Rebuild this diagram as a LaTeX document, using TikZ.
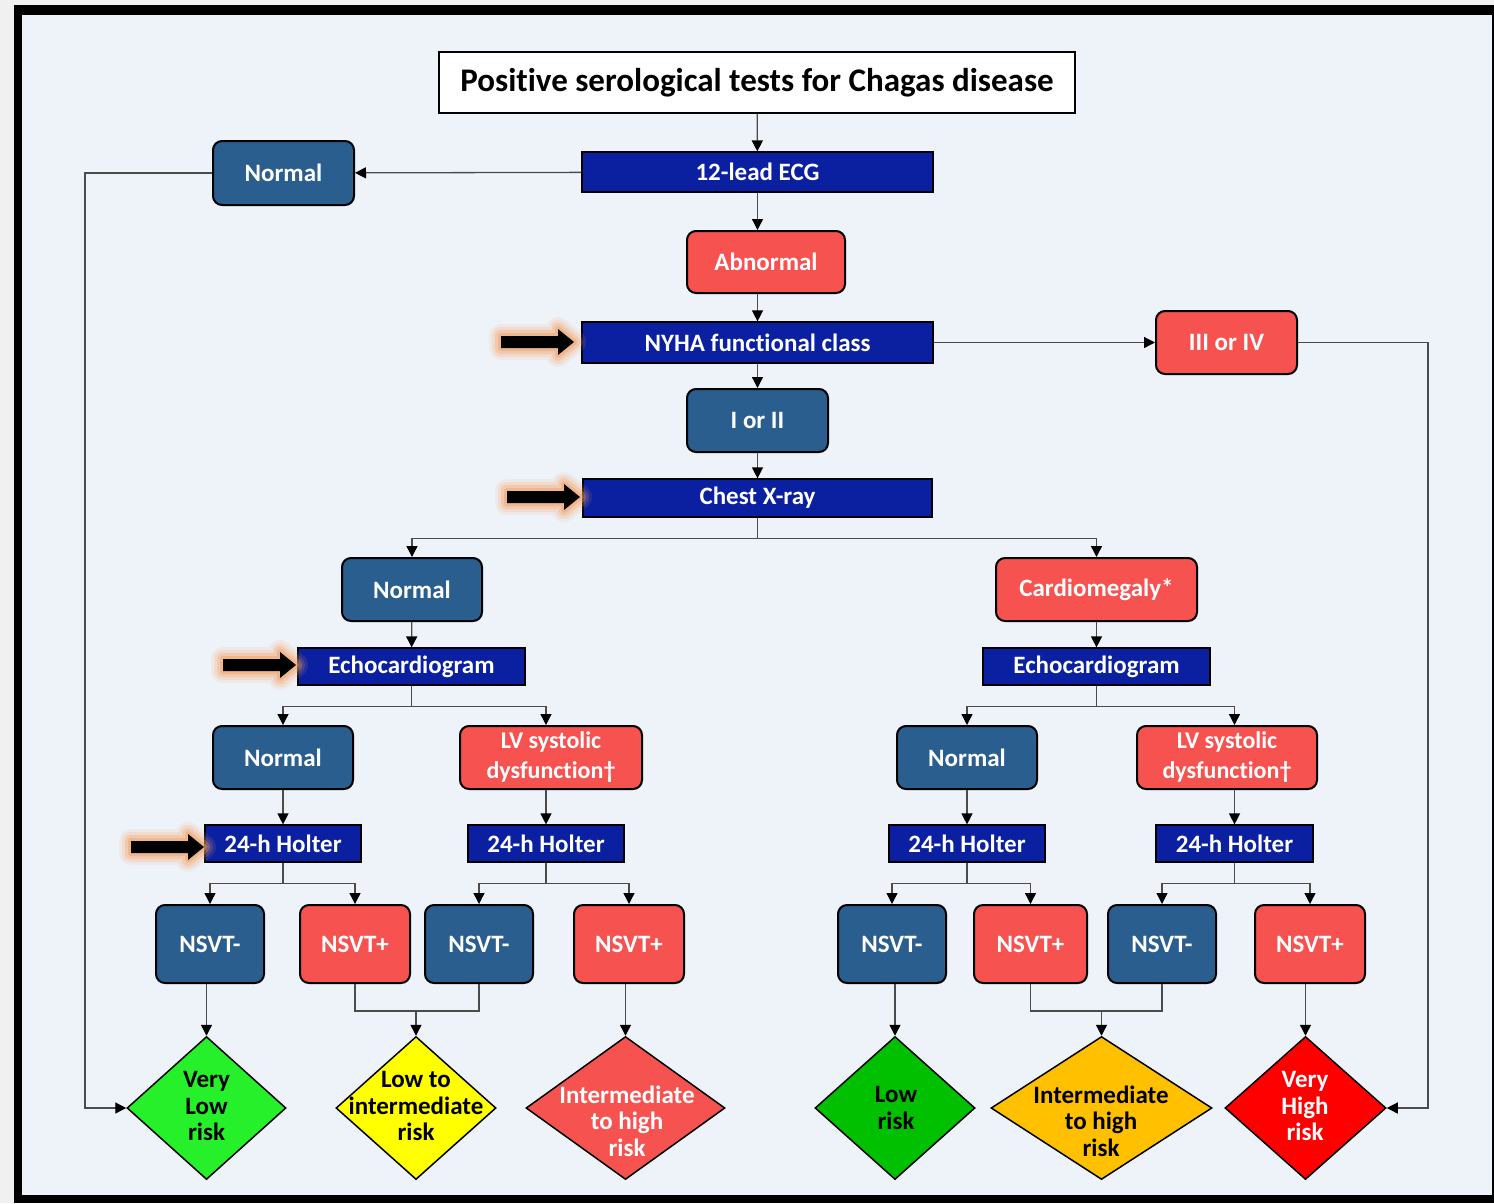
\documentclass[tikz,border=0pt]{standalone}
\usepackage{fontspec}
\setmainfont{Carlito}[Ligatures=NoCommon]
\usetikzlibrary{arrows.meta,shapes.geometric,calc}
\definecolor{bgc}{RGB}{238,243,250}
\definecolor{navy}{RGB}{10,32,160}
\definecolor{steel}{RGB}{42,94,142}
\definecolor{coral}{RGB}{246,82,80}
\definecolor{lgreen}{RGB}{38,240,42}
\definecolor{dgreen}{RGB}{0,192,0}
\definecolor{yel}{RGB}{255,255,0}
\definecolor{amber}{RGB}{255,192,0}
\definecolor{vred}{RGB}{255,0,0}
\definecolor{glow}{RGB}{245,160,100}
\definecolor{linec}{RGB}{75,75,75}
\begin{document}
\begin{tikzpicture}[x=1pt,y=-1pt,
  font=\bfseries\fontsize{25}{27}\selectfont,
  rbox/.style={draw=black, line width=2pt, rounded corners=9pt, text=white, align=center, inner sep=0pt},
  bluebox/.style={rbox, fill=steel},
  redbox/.style={rbox, fill=coral},
  nbox/.style={draw=black, line width=1.2pt, fill=navy, text=white, inner sep=0pt},
  dia/.style={diamond, draw=black, line width=1.5pt, inner sep=0pt},
  dtext/.style={align=center, inner sep=0pt, font=\bfseries\fontsize{25}{26.5}\selectfont},
  plain/.style={draw=linec, line width=1.3pt},
  conn/.style={plain, -{Triangle[length=11pt,width=11pt,black]}},
  fatarrow/.pic={
    \foreach \w/\o in {24/0.12,18/0.18,12/0.3,6/0.45}{
      \draw[glow, line width=\w pt, opacity=\o, line join=round]
        (-73,-6) -- (-16,-6) -- (-16,-13) -- (0,0) -- (-16,13) -- (-16,6) -- (-73,6) -- cycle;}
    \fill[black] (-73,-6) -- (-16,-6) -- (-16,-13) -- (0,0) -- (-16,13) -- (-16,6) -- (-73,6) -- cycle;
  }]
\useasboundingbox (0,0) rectangle (1494,1203);
\fill[black!6] (0,0) rectangle (1494,1203);
\fill[black] (14,5) rectangle (1494,1203);
\fill[bgc] (22,15) rectangle (1492,1195);

% title
\node[draw=black, line width=1.5pt, fill=white, minimum width=636pt, minimum height=61pt, inner sep=0pt,
  font=\bfseries\fontsize{33}{36}\selectfont] (title) at (757,82.5) {Positive serological tests for Chagas disease};

\node[nbox, minimum width=351pt, minimum height=40pt] (ecg) at (757.5,172) {12-lead ECG};
\node[bluebox, minimum width=141pt, minimum height=64pt] (n1) at (283.5,173) {Normal};
\node[redbox, minimum width=158pt, minimum height=62pt] (abn) at (766,262) {Abnormal};
\node[nbox, minimum width=351pt, minimum height=41pt] (nyha) at (757.5,342.5) {NYHA functional class};
\node[redbox, minimum width=141pt, minimum height=63pt] (c34) at (1226.5,342.5) {III or IV};
\node[bluebox, minimum width=141pt, minimum height=63pt] (c12) at (757.5,420.5) {I or II};
\node[nbox, minimum width=349pt, minimum height=38pt] (cxr) at (757.5,498) {Chest X-ray};
\node[bluebox, minimum width=140pt, minimum height=63pt] (n2) at (412,589.5) {Normal};
\node[redbox, minimum width=201pt, minimum height=63pt] (card) at (1096.5,589.5) {Cardiomegaly*};
\node[nbox, minimum width=227pt, minimum height=37pt] (echoL) at (411.5,666.5) {Echocardiogram};
\node[nbox, minimum width=227pt, minimum height=37pt] (echoR) at (1096.5,666.5) {Echocardiogram};
\node[bluebox, minimum width=140pt, minimum height=63pt] (n3) at (283,757.5) {Normal};
\node[redbox, minimum width=182pt, minimum height=63pt, font=\bfseries\fontsize{24}{30}\selectfont] (lv1) at (551,757.5) {LV systolic\\dysfunction\textdagger};
\node[bluebox, minimum width=140pt, minimum height=63pt] (n4) at (967,757.5) {Normal};
\node[redbox, minimum width=180pt, minimum height=63pt, font=\bfseries\fontsize{24}{30}\selectfont] (lv2) at (1227,757.5) {LV systolic\\dysfunction\textdagger};
\node[nbox, minimum width=156pt, minimum height=37pt] (h1) at (283,843.5) {24-h Holter};
\node[nbox, minimum width=156pt, minimum height=37pt] (h2) at (546,843.5) {24-h Holter};
\node[nbox, minimum width=156pt, minimum height=37pt] (h3) at (967,843.5) {24-h Holter};
\node[nbox, minimum width=157pt, minimum height=37pt] (h4) at (1234.5,843.5) {24-h Holter};

\node[bluebox, minimum width=108pt, minimum height=78pt] (s1) at (210,944) {NSVT-};
\node[redbox, minimum width=110pt, minimum height=78pt] (s2) at (355,944) {NSVT+};
\node[bluebox, minimum width=108pt, minimum height=78pt] (s3) at (479,944) {NSVT-};
\node[redbox, minimum width=110pt, minimum height=78pt] (s4) at (629,944) {NSVT+};
\node[bluebox, minimum width=108pt, minimum height=78pt] (s5) at (892,944) {NSVT-};
\node[redbox, minimum width=113pt, minimum height=78pt] (s6) at (1030.5,944) {NSVT+};
\node[bluebox, minimum width=108pt, minimum height=78pt] (s7) at (1162,944) {NSVT-};
\node[redbox, minimum width=110pt, minimum height=78pt] (s8) at (1310,944) {NSVT+};

\node[dia, fill=lgreen, minimum width=159pt, minimum height=143pt] (d1) at (206.5,1108) {};
\node[dia, fill=yel, minimum width=160pt, minimum height=143pt] (d2) at (416,1108) {};
\node[dia, fill=coral, minimum width=199pt, minimum height=143pt] (d3) at (625.5,1108) {};
\node[dia, fill=dgreen, minimum width=160pt, minimum height=143pt] (d4) at (895,1108) {};
\node[dia, fill=amber, minimum width=221pt, minimum height=143pt] (d5) at (1101.5,1108) {};
\node[dia, fill=vred, minimum width=161pt, minimum height=143pt] (d6) at (1305.5,1108) {};
\node[dtext] (t1) at (206.5,1106) {Very\\Low\\risk};
\node[dtext] (t2) at (416,1106) {Low to\\intermediate\\risk};
\node[dtext, text=white] (t3) at (627,1121) {Intermediate\\to high\\risk};
\node[dtext] (t4) at (896,1108) {Low\\risk};
\node[dtext] (t5) at (1101,1121) {Intermediate\\to high\\risk};
\node[dtext, text=white] (t6) at (1305,1106) {Very\\High\\risk};

% connectors
\coordinate (lc) at (85,0);
\coordinate (rc) at (1428,0);
\draw[conn] (title) -- (ecg);
\draw[conn] (ecg) -- (n1);
\draw[conn] (n1.west) -- (lc |- n1.west) |- (d1.west);
\draw[conn] (ecg.south) -- (ecg.south |- abn.north);
\draw[conn] (ecg.south |- abn.south) -- (nyha.north);
\draw[conn] (nyha.east) -- (c34.west);
\draw[conn] (c34.east) -- (rc |- c34.east) |- (d6.east);
\draw[conn] (nyha) -- (c12);
\draw[conn] (c12) -- (cxr);
\draw[plain] (cxr.south) -- ++(0,21) coordinate (j0);
\draw[conn] (j0) -| (n2.north);
\draw[conn] (j0) -| (card.north);
\draw[conn] (n2) -- (echoL);
\draw[conn] (card) -- (echoR);
\draw[plain] (echoL.south) -- ++(0,21) coordinate (jL);
\draw[conn] (jL) -| (n3.north);
\draw[conn] (jL) -| (h2.north |- lv1.north);
\draw[plain] (echoR.south) -- ++(0,21) coordinate (jR);
\draw[conn] (jR) -| (n4.north);
\draw[conn] (jR) -| (lv2.north -| h4.north);
\draw[conn] (n3) -- (h1);
\draw[conn] (h2.north |- lv1.south) -- (h2.north);
\draw[conn] (n4) -- (h3);
\draw[conn] (h4.north |- lv2.south) -- (h4.north);
\foreach \h/\a/\b in {h1/s1/s2, h2/s3/s4, h3/s5/s6, h4/s7/s8}{
  \draw[plain] (\h.south) -- ++(0,21) coordinate (jj);
  \draw[conn] (jj) -| (\a.north);
  \draw[conn] (jj) -| (\b.north);
}
\draw[conn] (d1.north |- s1.south) -- (d1.north);
\draw[plain] (s2.south) -- ++(0,27) coordinate (k1) -| (s3.south);
\draw[conn] (d2.north |- k1) -- (d2.north);
\draw[conn] (d3.north |- s4.south) -- (d3.north);
\draw[conn] (d4.north |- s5.south) -- (d4.north);
\draw[plain] (s6.south) -- ++(0,27) coordinate (k2) -| (s7.south);
\draw[conn] (d5.north |- k2) -- (d5.north);
\draw[conn] (d6.north |- s8.south) -- (d6.north);

% highlight arrows
\pic at (574,342) {fatarrow};
\pic at (580,497) {fatarrow};
\pic at (296,665) {fatarrow};
\pic at (204,847) {fatarrow};
\end{tikzpicture}
\end{document}
